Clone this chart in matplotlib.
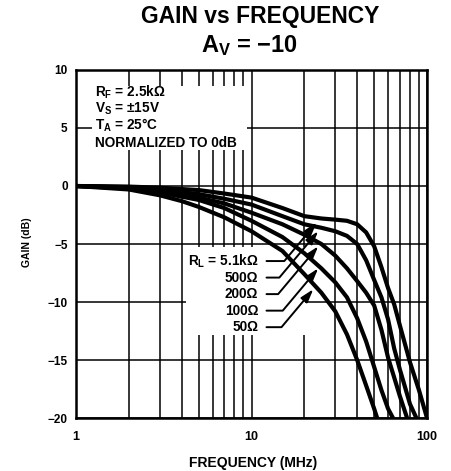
import matplotlib
matplotlib.use('Agg')
import matplotlib.pyplot as plt
from matplotlib.patches import Rectangle

plt.rcParams['font.family'] = ['Liberation Sans', 'DejaVu Sans']
plt.rcParams['font.weight'] = 'bold'
plt.rcParams['mathtext.fontset'] = 'custom'
plt.rcParams['mathtext.rm'] = 'Liberation Sans:bold'
plt.rcParams['mathtext.it'] = 'Liberation Sans:bold'
plt.rcParams['mathtext.bf'] = 'Liberation Sans:bold'

# gain curves (MHz, dB)
f_5k1 = [1, 2, 3, 5, 7, 10, 15, 20, 25, 30, 35, 40, 45, 50, 55, 60, 65, 70, 80, 90, 100]
g_5k1 = [0, -0.05, -0.15, -0.35, -0.65, -1.0, -1.9, -2.6, -2.8, -2.9, -3.0, -3.3, -4.0, -5.2, -7.0, -8.8, -10.2, -12.0, -15.2, -17.6, -20.0]

f_500 = [1, 2, 3, 5, 7, 10, 15, 20, 25, 30, 35, 40, 45, 50, 55, 60, 65, 70, 80, 87]
g_500 = [0, -0.1, -0.3, -0.7, -1.1, -1.6, -2.6, -3.3, -3.6, -3.9, -4.3, -5.0, -6.4, -8.1, -9.6, -11.5, -14.0, -15.8, -18.8, -20.0]

f_200 = [1, 2, 3, 5, 7, 10, 15, 20, 25, 30, 35, 40, 45, 50, 55, 60, 65, 70, 77]
g_200 = [0, -0.15, -0.45, -1.0, -1.5, -2.3, -3.3, -4.2, -5.0, -6.0, -7.1, -8.2, -9.2, -10.3, -12.4, -14.8, -16.5, -18.1, -20.0]

f_100 = [1, 2, 3, 5, 7, 10, 15, 20, 25, 30, 35, 40, 45, 50, 55, 60, 64]
g_100 = [0, -0.2, -0.55, -1.2, -1.9, -3.0, -4.4, -5.8, -7.1, -8.3, -9.6, -11.4, -13.4, -15.6, -17.6, -19.2, -20.0]

f_50 = [1, 2, 3, 4, 5, 7, 10, 15, 20, 25, 30, 35, 40, 45, 50, 52]
g_50 = [0, -0.3, -0.8, -1.3, -1.8, -2.7, -3.9, -5.6, -7.6, -9.2, -10.8, -12.8, -15.0, -17.2, -19.2, -20.0]

curves = [(f_5k1, g_5k1), (f_500, g_500), (f_200, g_200), (f_100, g_100), (f_50, g_50)]

rl_labels = ['R$_{L}$ = 5.1k\u03a9', '500\u03a9', '200\u03a9', '100\u03a9', '50\u03a9']
arrow_f = [23.5, 24, 24, 24, 22.5]
arrow_db = [-3.15, -3.9, -5.2, -7.1, -8.9]

cond_lines = ['R$_{F}$ = 2.5k\u03a9', 'V$_{S}$ = \u00b115V', 'T$_{A}$ = 25\u00b0C', 'NORMALIZED TO 0dB']

yticks = [-20, -15, -10, -5, 0, 5, 10]
ytick_labels = ['\u221220', '\u221215', '\u221210', '\u22125', '0', '5', '10']
xticks = [1, 10, 100]
xtick_labels = ['1', '10', '100']

fig = plt.figure(figsize=(4.51, 4.71), dpi=100)
ax = fig.add_axes([0.1685, 0.1125, 0.7783, 0.7389])

ax.set_xscale('log')
ax.set_xlim(1, 100)
ax.set_ylim(-20, 10)
ax.set_xticks(xticks)
ax.set_xticklabels(xtick_labels)
ax.set_xticks([2, 3, 4, 5, 6, 7, 8, 9, 20, 30, 40, 50, 60, 70, 80, 90], minor=True)
ax.set_xticklabels([], minor=True)
ax.set_yticks(yticks)
ax.set_yticklabels(ytick_labels)
ax.tick_params(which='both', length=0)
ax.tick_params(axis='x', labelsize=9, pad=9)
ax.tick_params(axis='y', labelsize=8.5, pad=6)
ax.grid(which='both', color='black', lw=1.1)
for s in ax.spines.values():
    s.set_linewidth(1.8)

# white areas behind the text blocks (grid is interrupted there)
ax.add_patch(Rectangle((0.046, 0.77), 0.44, 0.185, transform=ax.transAxes,
                       facecolor='white', edgecolor='none', zorder=2))
ax.add_patch(Rectangle((0.312, 0.239), 0.34, 0.252, transform=ax.transAxes,
                       facecolor='white', edgecolor='none', zorder=2))

for f, g in curves:
    ax.plot(f, g, color='black', lw=3.0, solid_capstyle='butt', zorder=3)

for i, line in enumerate(cond_lines):
    ax.text(0.054, 0.937 - i * 0.0485, line, transform=ax.transAxes,
            fontsize=9.8, ha='left', va='center', zorder=4)

for i, lab in enumerate(rl_labels):
    ax.annotate(lab, xy=(arrow_f[i], arrow_db[i]), xycoords='data',
                xytext=(0.519, 0.451 - i * 0.0475), textcoords='axes fraction',
                fontsize=9.8, ha='right', va='center', zorder=4,
                arrowprops=dict(arrowstyle='-|>,head_length=0.8,head_width=0.25',
                                color='black', lw=1.4, shrinkA=4, shrinkB=0,
                                relpos=(1, 0.5), mutation_scale=10,
                                connectionstyle='angle,angleA=0,angleB=50,rad=0'))

fig.text(0.576, 1 - 17 / 471, 'GAIN vs FREQUENCY', ha='center', va='center', fontsize=16.5)
fig.text(0.554, 1 - 46 / 471, 'A$_{V}$ = \u221210', ha='center', va='center', fontsize=17)
fig.text(253 / 451, 1 - 463 / 471, 'FREQUENCY (MHz)', ha='center', va='center', fontsize=10)
fig.text(27 / 451, 1 - 242 / 471, 'GAIN (dB)', ha='center', va='center', fontsize=7.5, rotation=90)

fig.savefig('out.png', dpi=100)
